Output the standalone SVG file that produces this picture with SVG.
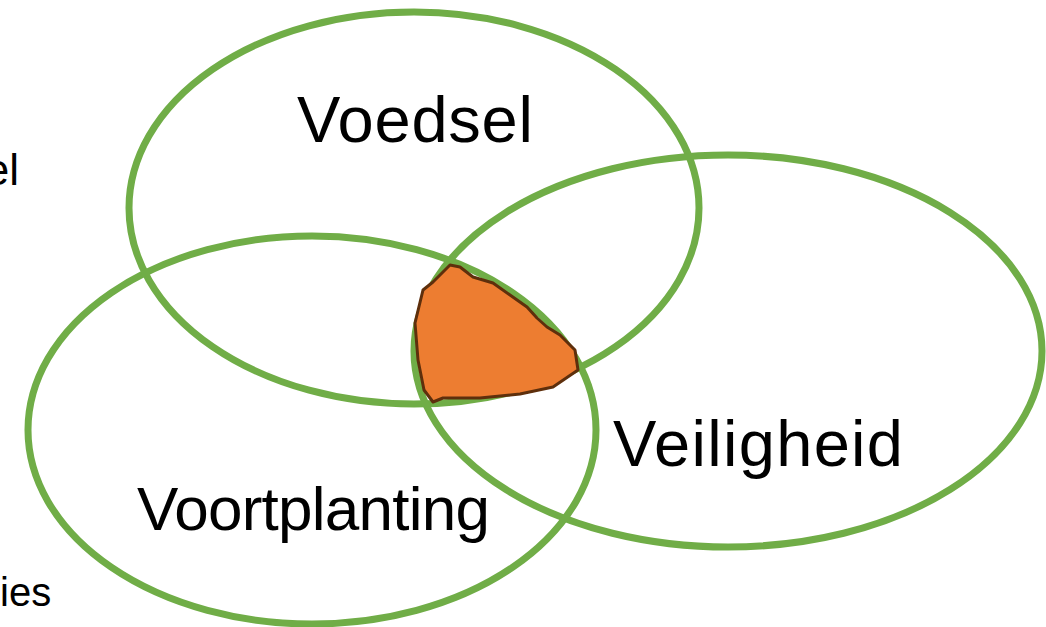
<svg xmlns="http://www.w3.org/2000/svg" width="1046" height="627" viewBox="0 0 1046 627">
<style>
.ring{fill:none;stroke:#70AD47;stroke-width:7}
.lbl{font-family:"Liberation Sans",Arial,sans-serif;fill:#000}
</style>
<rect width="1046" height="627" fill="#fff"/>
<g id="side-text">
<text class="lbl" x="19" y="185" font-size="44" text-anchor="end">el</text>
<text class="lbl" x="0" y="606" font-size="40">ies</text>
</g>
<g id="voedsel">
<ellipse class="ring" cx="414" cy="208" rx="285" ry="196"/>
<text class="lbl" x="297" y="142" font-size="65" textLength="236">Voedsel</text>
</g>
<g id="veiligheid">
<ellipse class="ring" cx="728" cy="351" rx="314" ry="196"/>
<text class="lbl" x="613" y="466" font-size="65" textLength="290">Veiligheid</text>
</g>
<g id="voortplanting">
<ellipse class="ring" cx="312" cy="430" rx="284" ry="194"/>
<text class="lbl" x="137" y="530" font-size="62" textLength="353">Voortplanting</text>
</g>
<g id="overlap">
<path d="M450,265 L460,267 L473,277 L493,283 L510,295 L527,307 L537,318 L547,327 L560,335 L575,350 L578,370 L553,387 L520,394 L480,398 L443,398 L433,402 L424,390 L418,360 L415,323 L423,290 L433,282 Z" fill="#ED7D31" stroke="#5E2F0C" stroke-width="3" stroke-linejoin="round"/>
</g>
</svg>
